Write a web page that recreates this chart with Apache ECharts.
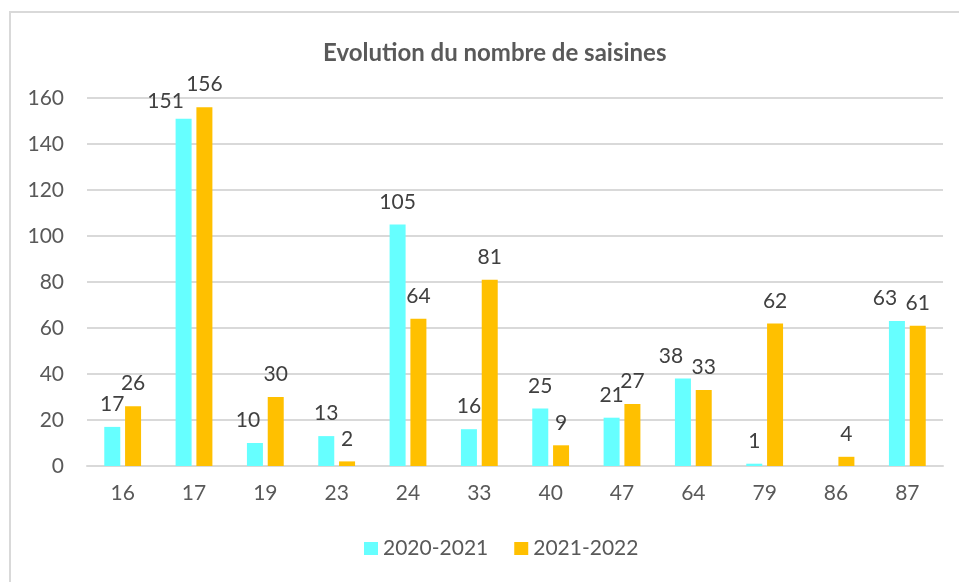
<!DOCTYPE html>
<html>
<head>
<meta charset="utf-8">
<script src="https://cdn.jsdelivr.net/npm/echarts@6/dist/echarts.min.js"></script>
<style>
    html, body { margin: 0; padding: 0; background: #ffffff; }
    #frame {
        position: absolute; left: 9px; top: 11px; width: 960px; height: 580px;
        border-left: 2px solid #d9d9d9; border-top: 2px solid #d9d9d9;
    }
    #myEcharts { position: absolute; left: 0; top: 0; width: 959px; height: 582px; }
</style>
</head>
<body>
<div id="frame"></div>
<div id="myEcharts"></div>
<script>
    // departements et nombre de saisines par annee
    const categories = ['16', '17', '19', '23', '24', '33', '40', '47', '64', '79', '86', '87'];
    const data2021 = [
        17,
        { value: 151, label: { offset: [-18, 5] } },
        { value: 10, label: { offset: [-7, 0] } },
        13, 105, 16, 25, 21,
        { value: 38, label: { offset: [-12, 0] } },
        1, null,
        { value: 63, label: { offset: [-12, 0] } }
    ];
    const data2022 = [26, 156, 30, 2, 64, 81, 9, 27, 33, 62, 4, 61];

    const font = 'Lato, "Open Sans", sans-serif';
    const myEcharts = echarts.init(document.getElementById('myEcharts'));

    const labelStyle = {
        show: true,
        position: 'top',
        distance: 12,
        color: '#404040',
        fontSize: 21,
        fontFamily: font
    };

    const option = {
        animation: false,
        title: {
            text: 'Evolution du nombre de saisines',
            left: 318,
            top: 36,
            textStyle: {
                color: '#595959',
                fontSize: 24,
                fontWeight: 'bold',
                fontFamily: font
            }
        },
        legend: {
            bottom: 18,
            left: 359,
            itemWidth: 14,
            itemHeight: 13,
            itemGap: 26,
            icon: 'rect',
            textStyle: {
                color: '#595959',
                fontSize: 21,
                fontFamily: font
            }
        },
        grid: {
            top: 98,
            left: 87,
            right: 16,
            bottom: 116,
            containLabel: false
        },
        xAxis: {
            type: 'category',
            data: categories,
            axisLine: {
                lineStyle: { color: '#d9d9d9', width: 2 }
            },
            axisTick: { show: false },
            axisLabel: {
                color: '#595959',
                fontSize: 21,
                fontFamily: font,
                margin: 17
            }
        },
        yAxis: {
            type: 'value',
            min: 0,
            max: 160,
            interval: 20,
            axisLine: { show: false },
            axisTick: { show: false },
            axisLabel: {
                color: '#595959',
                fontSize: 21,
                fontFamily: font,
                margin: 23
            },
            splitLine: {
                lineStyle: { color: '#d9d9d9', width: 2 }
            }
        },
        series: [{
            name: '2020-2021',
            type: 'bar',
            data: data2021,
            barWidth: 16,
            barGap: '30%',
            itemStyle: { color: '#66ffff' },
            label: labelStyle
        }, {
            name: '2021-2022',
            type: 'bar',
            data: data2022,
            barWidth: 16,
            barGap: '30%',
            itemStyle: { color: '#ffc000' },
            label: labelStyle
        }]
    };

    myEcharts.setOption(option);
</script>
</body>
</html>
